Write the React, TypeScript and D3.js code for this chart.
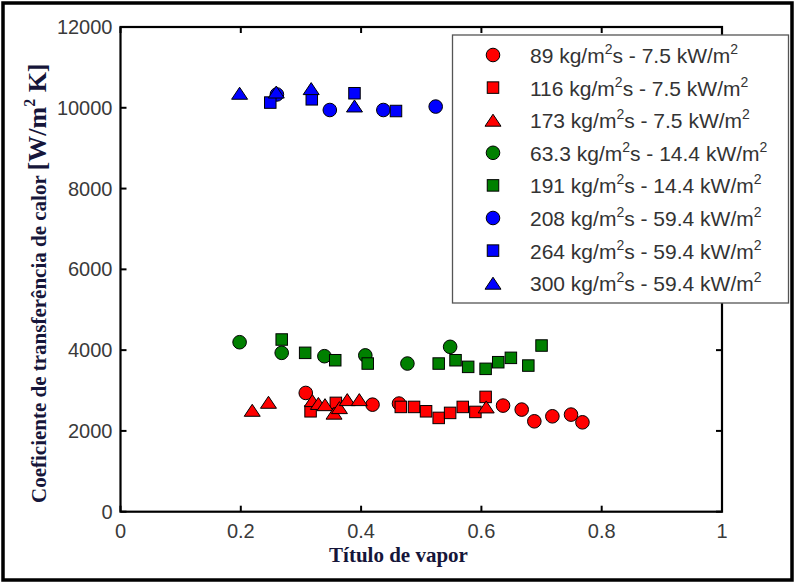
import React from "react";
import * as d3 from "d3";

// ---- data (x = vapor quality, y = heat transfer coefficient W/m²K) ----
const red89: [number, number][] = [
  [0.308, 2940], [0.419, 2650], [0.463, 2677], [0.636, 2627], [0.667, 2528],
  [0.688, 2238], [0.718, 2362], [0.749, 2404], [0.768, 2213],
];
const red116: [number, number][] = [
  [0.316, 2486], [0.358, 2694], [0.466, 2594], [0.488, 2594], [0.508, 2486],
  [0.529, 2322], [0.548, 2446], [0.569, 2594], [0.590, 2470], [0.607, 2842],
];
const red173: [number, number][] = [
  [0.219, 2511], [0.246, 2709], [0.319, 2750], [0.329, 2680], [0.340, 2650],
  [0.355, 2440], [0.364, 2577], [0.377, 2775], [0.397, 2775], [0.608, 2594],
];
const green63: [number, number][] = [
  [0.198, 4196], [0.268, 3933], [0.339, 3850], [0.407, 3870], [0.477, 3668], [0.548, 4082],
];
const green191: [number, number][] = [
  [0.268, 4263], [0.307, 3933], [0.357, 3750], [0.411, 3668], [0.529, 3668], [0.557, 3750],
  [0.578, 3586], [0.607, 3537], [0.628, 3701], [0.649, 3809], [0.678, 3618], [0.700, 4114],
];
const blue208: [number, number][] = [
  [0.260, 10330], [0.348, 9945], [0.437, 9945], [0.524, 10030],
];
const blue264: [number, number][] = [
  [0.249, 10129], [0.318, 10210], [0.389, 10360], [0.458, 9920],
];
const blue300: [number, number][] = [
  [0.198, 10360], [0.259, 10390], [0.317, 10475], [0.389, 10045],
];

const massFlux = ["89", "116", "173", "63.3", "191", "208", "264", "300"];
const heatFlux = ["7.5", "7.5", "7.5", "14.4", "14.4", "59.4", "59.4", "59.4"];
const seriesData = [red89, red116, red173, green63, green191, blue208, blue264, blue300];
const seriesShape = ["circle", "square", "triangle", "circle", "square", "circle", "square", "triangle"];
const seriesColor = ["#ff0000", "#ff0000", "#ff0000", "#008000", "#008000", "#0000ff", "#0000ff", "#0000ff"];

const xTicks = [0, 0.2, 0.4, 0.6, 0.8, 1];
const xTickLabels = ["0", "0.2", "0.4", "0.6", "0.8", "1"];
const yTicks = [0, 2000, 4000, 6000, 8000, 10000, 12000];
const yTickLabels = ["0", "2000", "4000", "6000", "8000", "10000", "12000"];

const xTitle = "Título de vapor";
const yTitleMain = "Coeficiente de transferência de calor ";
const yTitleUnit = "[W/m";
const yTitleUnitEnd = " K]";

// ---- layout ----
const W = 794;
const H = 582;
const left = 120.5;
const right = 722;
const top = 27;
const bottom = 511.7;

const x = d3.scaleLinear().domain([0, 1]).range([left, right]);
const y = d3.scaleLinear().domain([0, 12000]).range([bottom, top]);

const numFont = "'Liberation Sans', Arial, sans-serif";
const serifFont = "'Liberation Serif', 'Times New Roman', serif";
const titleColor = "#16163a";

function Marker({ shape, cx, cy, fill }: { shape: string; cx: number; cy: number; fill: string }) {
  const stroke = "#000";
  const sw = 1;
  if (shape === "circle") {
    return <circle cx={cx} cy={cy} r={6.8} fill={fill} stroke={stroke} strokeWidth={sw} />;
  }
  if (shape === "square") {
    const s = 11.5;
    return <rect x={cx - s / 2} y={cy - s / 2} width={s} height={s} fill={fill} stroke={stroke} strokeWidth={sw} />;
  }
  const w = 16;
  const h = 12;
  const pts = `${cx},${cy - h / 2} ${cx - w / 2},${cy + h / 2} ${cx + w / 2},${cy + h / 2}`;
  return <polygon points={pts} fill={fill} stroke={stroke} strokeWidth={sw} strokeLinejoin="miter" />;
}

export default function App() {
  const legendX = 452.5;
  const legendY = 35;
  const legendW = 336;
  const legendH = 268;
  const rowY0 = 55;
  const rowStep = 32.6;
  const tickLen = 6;

  return (
    <svg
      width={W}
      height={H}
      viewBox={`0 0 ${W} ${H}`}
      style={{ position: "absolute", left: 0, top: 0, background: "#fff" }}
    >
      <rect x={0} y={0} width={W} height={H} fill="#fff" />
      {/* outer frame */}
      <rect x={3} y={3} width={789} height={577} fill="none" stroke="#000" strokeWidth={3.5} />

      {/* axes box */}
      <rect x={left} y={top} width={right - left} height={bottom - top} fill="none" stroke="#000" strokeWidth={2.2} />

      {/* ticks */}
      {xTicks.map((t, i) => (
        <g key={"xt" + i}>
          <line x1={x(t)} x2={x(t)} y1={bottom} y2={bottom - tickLen} stroke="#000" strokeWidth={2} />
          <line x1={x(t)} x2={x(t)} y1={top} y2={top + tickLen} stroke="#000" strokeWidth={2} />
          <text
            x={x(t)}
            y={538}
            textAnchor="middle"
            fontFamily={numFont}
            fontSize={20}
            fill="#3a3a3a"
          >
            {xTickLabels[i]}
          </text>
        </g>
      ))}
      {yTicks.map((t, i) => (
        <g key={"yt" + i}>
          <line x1={left} x2={left + tickLen} y1={y(t)} y2={y(t)} stroke="#000" strokeWidth={2} />
          <line x1={right} x2={right - tickLen} y1={y(t)} y2={y(t)} stroke="#000" strokeWidth={2} />
          <text
            x={112.5}
            y={y(t) + 7}
            textAnchor="end"
            fontFamily={numFont}
            fontSize={20}
            fill="#3a3a3a"
          >
            {yTickLabels[i]}
          </text>
        </g>
      ))}

      {/* data */}
      {seriesData.map((data, si) => (
        <g key={"s" + si}>
          {data.map(([dx, dy], pi) => (
            <Marker
              key={pi}
              shape={seriesShape[si]}
              cx={x(dx)}
              cy={y(dy)}
              fill={seriesColor[si]}
            />
          ))}
        </g>
      ))}

      {/* legend */}
      <rect x={legendX} y={legendY} width={legendW} height={legendH} fill="#fff" stroke="#555" strokeWidth={1.3} />
      {massFlux.map((m, i) => {
        const ry = rowY0 + i * rowStep;
        return (
          <g key={"lg" + i}>
            <Marker shape={seriesShape[i]} cx={493} cy={ry} fill={seriesColor[i]} />
            <text x={530} y={ry + 8} fontFamily={numFont} fontSize={21} fill="#333">
              {`${m} kg/m`}
              <tspan dy={-9} fontSize={14}>2</tspan>
              <tspan dy={9}>{`s - ${heatFlux[i]} kW/m`}</tspan>
              <tspan dy={-9} fontSize={14}>2</tspan>
            </text>
          </g>
        );
      })}

      {/* axis titles */}
      <text
        x={398.5}
        y={562}
        textAnchor="middle"
        fontFamily={serifFont}
        fontWeight="bold"
        fontSize={21}
        fill={titleColor}
      >
        {xTitle}
      </text>
      <text
        transform={`translate(46,503) rotate(-90)`}
        x={0}
        y={0}
        textAnchor="start"
        fontFamily={serifFont}
        fontWeight="bold"
        fontSize={21}
        fill={titleColor}
      >
        {yTitleMain}
        <tspan fontSize={26}>{yTitleUnit}</tspan>
        <tspan fontSize={16} dy={-11}>2</tspan>
        <tspan fontSize={26} dy={11}>{yTitleUnitEnd}</tspan>
      </text>
    </svg>
  );
}
